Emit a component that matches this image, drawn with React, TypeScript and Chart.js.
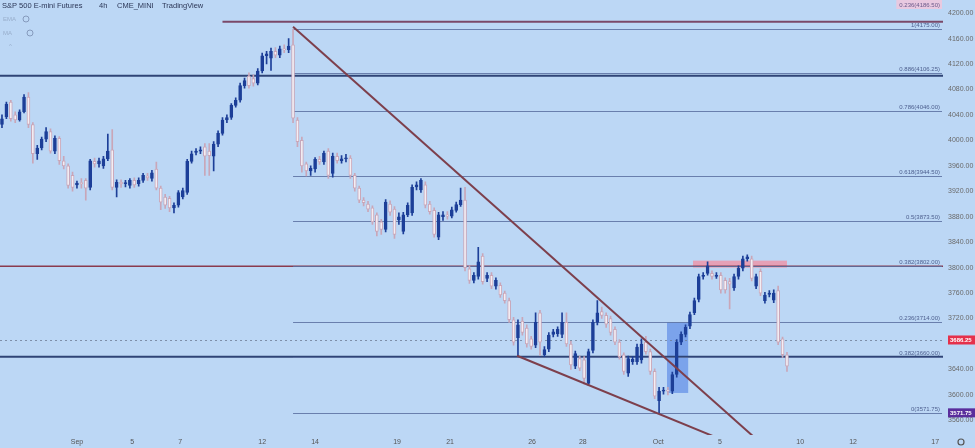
import React, { useEffect, useRef } from "react";
import { Chart, registerables } from "chart.js";

Chart.register(...registerables);

// ---- OHLC data (4h bars, S&P 500 E-mini futures) ----
const opens = [
  4025, 4037, 4060, 4040, 4032, 4045, 4068, 4025, 3979, 3988, 4002, 4014, 3983, 4003, 3968, 3960, 3945, 3930, 3933, 3937,
  3926, 3967, 3963, 3960, 3971, 3985, 3926, 3934, 3932, 3929, 3937, 3932, 3937, 3944, 3940, 3955, 3925, 3911, 3909, 3894,
  3898, 3911, 3918, 3967, 3981, 3983, 3990, 3983, 3975, 3994, 4011, 4032, 4036, 4055, 4063, 4086, 4101, 4097, 4090, 4109,
  4133, 4129, 4140, 4134, 4144, 4142, 4150, 4032, 4000, 3963, 3952, 3955, 3970, 3966, 3983, 3948, 3975, 3968, 3971, 3972,
  3945, 3925, 3906, 3900, 3894, 3883, 3872, 3860, 3900, 3892, 3875, 3857, 3883, 3886, 3927, 3922, 3930, 3900, 3890, 3848,
  3880, 3883, 3881, 3890, 3899, 3906, 3798, 3780, 3786, 3818, 3783, 3788, 3771, 3772, 3760, 3748, 3718, 3690, 3716, 3705,
  3688, 3678, 3729, 3663, 3672, 3695, 3696, 3695, 3714, 3680, 3645, 3657, 3655, 3618, 3670, 3714, 3731, 3725, 3720, 3703,
  3683, 3663, 3634, 3652, 3652, 3655, 3683, 3668, 3637, 3591, 3606, 3607, 3606, 3632, 3683, 3695, 3708, 3729, 3750, 3786,
  3791, 3791, 3786, 3788, 3780, 3778, 3768, 3786, 3799, 3814, 3814, 3771, 3794, 3748, 3758, 3749, 3764, 3688, 3663,
];
const highs = [
  4040, 4060, 4063, 4045, 4048, 4072, 4075, 4028, 3992, 4005, 4020, 4018, 4007, 4006, 3975, 3963, 3950, 3936, 3940, 3940,
  3970, 3972, 3972, 3975, 4010, 4017, 3938, 3938, 3937, 3940, 3941, 3941, 3948, 3948, 3953, 3966, 3928, 3915, 3912, 3902,
  3921, 3925, 3970, 3983, 3987, 3990, 3995, 3995, 3998, 4015, 4036, 4040, 4058, 4067, 4090, 4098, 4106, 4103, 4113, 4137,
  4140, 4145, 4146, 4148, 4150, 4160, 4175, 4036, 4005, 3966, 3960, 3973, 3975, 3983, 3987, 3980, 3980, 3976, 3978, 3976,
  3948, 3928, 3910, 3904, 3897, 3886, 3876, 3907, 3905, 3896, 3886, 3887, 3902, 3930, 3935, 3940, 3935, 3904, 3894, 3887,
  3888, 3888, 3895, 3903, 3925, 3926, 3803, 3792, 3832, 3822, 3792, 3792, 3784, 3776, 3763, 3752, 3722, 3718, 3722, 3710,
  3692, 3729, 3733, 3676, 3698, 3703, 3707, 3729, 3729, 3684, 3669, 3661, 3660, 3672, 3718, 3748, 3738, 3729, 3724, 3707,
  3687, 3666, 3661, 3660, 3680, 3688, 3692, 3672, 3641, 3612, 3612, 3612, 3636, 3687, 3699, 3710, 3730, 3752, 3790, 3792,
  3809, 3795, 3792, 3792, 3784, 3783, 3790, 3803, 3818, 3820, 3818, 3790, 3798, 3761, 3764, 3765, 3771, 3691, 3667,
];
const lows = [
  4020, 4034, 4030, 4028, 4030, 4043, 4020, 3964, 3970, 3985, 3998, 3980, 3979, 3962, 3955, 3925, 3920, 3925, 3925, 3906,
  3922, 3958, 3958, 3956, 3968, 3922, 3911, 3926, 3927, 3925, 3926, 3928, 3934, 3937, 3936, 3922, 3891, 3893, 3888, 3886,
  3895, 3908, 3915, 3964, 3977, 3979, 3945, 3945, 3952, 3990, 4008, 4028, 4033, 4052, 4060, 4082, 4082, 4085, 4087, 4106,
  4120, 4110, 4130, 4130, 4138, 4138, 4028, 3990, 3950, 3944, 3945, 3950, 3962, 3962, 3940, 3942, 3964, 3964, 3966, 3940,
  3920, 3902, 3897, 3888, 3868, 3850, 3852, 3856, 3882, 3846, 3868, 3853, 3880, 3882, 3922, 3918, 3894, 3884, 3848, 3844,
  3874, 3876, 3878, 3887, 3896, 3795, 3775, 3776, 3782, 3774, 3778, 3767, 3766, 3753, 3744, 3714, 3678, 3660, 3694, 3675,
  3672, 3674, 3662, 3660, 3668, 3691, 3692, 3690, 3676, 3640, 3641, 3638, 3617, 3615, 3666, 3710, 3720, 3706, 3694, 3679,
  3656, 3632, 3629, 3648, 3648, 3650, 3664, 3632, 3594, 3572, 3601, 3600, 3602, 3628, 3679, 3691, 3704, 3726, 3746, 3782,
  3788, 3782, 3783, 3760, 3760, 3735, 3764, 3782, 3795, 3810, 3779, 3767, 3756, 3744, 3754, 3745, 3679, 3659, 3637,
];
const closes = [
  4034, 4057, 4034, 4032, 4045, 4068, 4025, 3979, 3988, 4002, 4014, 3983, 4003, 3968, 3960, 3929, 3926, 3933, 3932, 3925,
  3968, 3963, 3968, 3971, 3983, 3926, 3934, 3932, 3933, 3937, 3930, 3937, 3945, 3941, 3949, 3925, 3903, 3898, 3894, 3898,
  3918, 3921, 3967, 3979, 3983, 3985, 3975, 3976, 3994, 4011, 4032, 4036, 4055, 4063, 4086, 4094, 4086, 4090, 4109, 4133,
  4136, 4140, 4134, 4144, 4142, 4148, 4035, 3998, 3960, 3952, 3956, 3970, 3966, 3980, 3945, 3975, 3968, 3971, 3972, 3945,
  3925, 3906, 3902, 3892, 3872, 3857, 3860, 3903, 3887, 3852, 3880, 3883, 3898, 3926, 3930, 3937, 3898, 3888, 3852, 3883,
  3883, 3881, 3891, 3899, 3906, 3800, 3780, 3788, 3809, 3778, 3788, 3771, 3780, 3757, 3748, 3718, 3683, 3710, 3698, 3680,
  3676, 3714, 3683, 3671, 3694, 3699, 3703, 3714, 3680, 3647, 3665, 3642, 3626, 3668, 3714, 3729, 3725, 3711, 3698, 3683,
  3660, 3637, 3657, 3656, 3675, 3680, 3668, 3637, 3598, 3606, 3607, 3606, 3632, 3683, 3695, 3706, 3726, 3748, 3786, 3788,
  3803, 3786, 3788, 3765, 3765, 3774, 3786, 3799, 3814, 3817, 3783, 3786, 3760, 3757, 3760, 3760, 3683, 3663, 3645,
];

// ---- Axis ticks ----
const xTickBars = [17, 29.5, 40.4, 59, 71, 89.6, 101.6, 120.2, 131.7, 148.8, 162.8, 181, 193, 211.6];
const xTickLabels = ["Sep", "5", "7", "12", "14", "19", "21", "26", "28", "Oct", "5", "10", "12", "17"];
const yTickValues = [3560, 3600, 3640, 3720, 3760, 3800, 3840, 3880, 3920, 3960, 4000, 4040, 4080, 4120, 4160, 4200];

// ---- Drawn studies (values in bar index / price) ----
const fibLevels = [4186.5, 4175, 4106.25, 4046, 3944.5, 3873.5, 3802, 3714, 3660, 3571.75];
const fibLabels = [
  "0.236(4186.50)", "1(4175.00)", "0.886(4106.25)", "0.786(4046.00)", "0.618(3944.50)",
  "0.5(3873.50)", "0.382(3802.00)", "0.236(3714.00)", "0.382(3660.00)", "0(3571.75)",
];
const fibStartBar = 66;
const hLineValues = [4186.5, 4101.5, 3802, 3660];
const hLineStartBars = [50, -1, -1, -1];
const upperTrendBars = [66, 172];
const upperTrendPrices = [4178.5, 3524.6];
const lowerTrendBars = [116.8, 162];
const lowerTrendPrices = [3661.5, 3533];
const blueBoxBars = [150.8, 155.6];
const blueBoxPrices = [3603, 3714];
const pinkBoxBars = [156.7, 178];
const pinkBoxPrices = [3800, 3811];
const lastPrice = 3686.25;
const lowPrice = 3571.75;

// ---- Styles ----
const BG = "rgb(188,215,245)";
const UP = "#1d3f98";
const DOWN_FILL = "#f3eef4";
const DOWN_BORDER = "#c9a6b8";
const X_MIN = -0.45;
const X_MAX = 213.38;
const Y_MIN = 3536.92;
const Y_MAX = 4206.15;
const FONT = "'Liberation Sans', Arial, sans-serif";
const hLineColors = ["#7a4868", "#2f4476", "#8a3a4e", "#2f4476"];
const hLineWidths = [2, 2, 1.5, 2];

const overlayPlugin = {
  id: "overlay",
  beforeDraw(chart: any) {
    const ctx = chart.ctx;
    ctx.save();
    ctx.fillStyle = BG;
    ctx.fillRect(0, 0, chart.width, chart.height);
    ctx.restore();
  },
  beforeDatasetsDraw(chart: any) {
    const { ctx, chartArea: a, scales } = chart;
    const x = scales.x;
    const y = scales.y;
    ctx.save();
    ctx.beginPath();
    ctx.rect(a.left, a.top, a.right - a.left, a.bottom - a.top);
    ctx.clip();

    const rect = (bars: number[], prices: number[], color: string) => {
      const x0 = x.getPixelForValue(bars[0]);
      const x1 = x.getPixelForValue(bars[1]);
      const y0 = y.getPixelForValue(prices[1]);
      const y1 = y.getPixelForValue(prices[0]);
      ctx.fillStyle = color;
      ctx.fillRect(x0, y0, x1 - x0, y1 - y0);
    };
    rect(blueBoxBars, blueBoxPrices, "rgba(70,120,225,0.55)");
    rect(pinkBoxBars, pinkBoxPrices, "rgba(236,150,170,0.85)");

    ctx.strokeStyle = "rgba(110,125,150,0.8)";
    ctx.lineWidth = 1;
    ctx.setLineDash([2, 3]);
    const ly = Math.round(y.getPixelForValue(lastPrice)) + 0.5;
    ctx.beginPath();
    ctx.moveTo(a.left, ly);
    ctx.lineTo(a.right, ly);
    ctx.stroke();
    ctx.setLineDash([]);

    hLineValues.forEach((v, i) => {
      const py = y.getPixelForValue(v);
      const sx = hLineStartBars[i] < 0 ? a.left : x.getPixelForValue(hLineStartBars[i]);
      ctx.strokeStyle = hLineColors[i];
      ctx.lineWidth = hLineWidths[i];
      ctx.beginPath();
      ctx.moveTo(sx, py);
      ctx.lineTo(a.right, py);
      ctx.stroke();
    });

    const fx = x.getPixelForValue(fibStartBar);
    fibLevels.forEach((v, i) => {
      if (i === 0) return;
      const py = Math.round(y.getPixelForValue(v)) + 0.5;
      ctx.strokeStyle = "rgba(90,112,160,0.85)";
      ctx.lineWidth = 1.2;
      ctx.beginPath();
      ctx.moveTo(fx, py);
      ctx.lineTo(a.right - 1, py);
      ctx.stroke();
    });
    ctx.restore();

    ctx.save();
    ctx.font = `6px ${FONT}`;
    ctx.textAlign = "right";
    ctx.textBaseline = "alphabetic";
    fibLevels.forEach((v, i) => {
      const py = y.getPixelForValue(v);
      const tx = a.right - 3;
      if (i === 0) {
        const w = ctx.measureText(fibLabels[i]).width;
        ctx.fillStyle = "rgba(236,200,222,0.9)";
        ctx.fillRect(tx - w - 3, 0, w + 5, 9);
        ctx.fillStyle = "#6a5a8a";
        ctx.fillText(fibLabels[i], tx, 7);
        return;
      }
      ctx.fillStyle = "#4d5f8e";
      ctx.fillText(fibLabels[i], tx, py - 2);
    });
    ctx.restore();
  },
  afterDraw(chart: any) {
    const { ctx, chartArea: a, scales } = chart;
    const y = scales.y;
    ctx.save();
    const tag = (v: number, color: string) => {
      const py = y.getPixelForValue(v);
      ctx.fillStyle = color;
      ctx.fillRect(a.right + 5, py - 4.5, chart.width - a.right - 5, 9);
      ctx.fillStyle = "#ffffff";
      ctx.font = `bold 6px ${FONT}`;
      ctx.textAlign = "left";
      ctx.textBaseline = "middle";
      ctx.fillText(v.toFixed(2), a.right + 7, py + 0.5);
    };
    tag(lastPrice, "#e5304a");
    tag(lowPrice, "#5a2d9c");

    ctx.font = `7.5px ${FONT}`;
    ctx.textAlign = "left";
    ctx.textBaseline = "middle";
    ctx.fillStyle = "#2b3656";
    ctx.fillText("S&P 500 E-mini Futures", 2, 6);
    ctx.fillText("4h", 99, 6);
    ctx.fillText("CME_MINI", 117, 6);
    ctx.fillText("TradingView", 162, 6);
    ctx.fillStyle = "rgba(140,160,190,0.75)";
    ctx.font = `6px ${FONT}`;
    ctx.fillText("EMA", 3, 19);
    ctx.fillText("MA", 3, 33);
    ctx.strokeStyle = "rgba(120,140,175,0.8)";
    ctx.lineWidth = 1;
    ctx.beginPath();
    ctx.arc(26, 19, 3, 0, Math.PI * 2);
    ctx.stroke();
    ctx.beginPath();
    ctx.arc(30, 33, 3, 0, Math.PI * 2);
    ctx.stroke();
    ctx.fillText("^", 9, 46);

    ctx.strokeStyle = "#555";
    ctx.lineWidth = 1.2;
    ctx.beginPath();
    ctx.arc(961, 442, 3, 0, Math.PI * 2);
    ctx.stroke();
    ctx.restore();
  },
};

export default function App() {
  const canvasRef = useRef<HTMLCanvasElement | null>(null);

  useEffect(() => {
    const canvas = canvasRef.current;
    if (!canvas) return;
    const idx = opens.map((_, i) => i);
    const isUp = idx.map((i) => closes[i] >= opens[i]);

    const chart = new Chart(canvas, {
      type: "bar",
      data: {
        datasets: [
          {
            type: "line",
            label: "upper trend",
            data: upperTrendBars.map((b, i) => ({ x: b, y: upperTrendPrices[i] })),
            borderColor: "#7d3f4c",
            borderWidth: 2,
            pointRadius: 0,
            order: 0,
          } as any,
          {
            type: "line",
            label: "lower trend",
            data: lowerTrendBars.map((b, i) => ({ x: b, y: lowerTrendPrices[i] })),
            borderColor: "#7d3f4c",
            borderWidth: 2,
            pointRadius: 0,
            order: 0,
          } as any,
          {
            type: "bar",
            label: "bodies",
            data: idx.map((i) => ({ x: i, y: [opens[i], closes[i]] })),
            backgroundColor: idx.map((i) => (isUp[i] ? UP : DOWN_FILL)),
            borderColor: idx.map((i) => (isUp[i] ? UP : DOWN_BORDER)),
            borderWidth: 1,
            borderSkipped: false,
            barThickness: 3,
            minBarLength: 1,
            grouped: false,
            order: 1,
          } as any,
          {
            type: "bar",
            label: "wicks",
            data: idx.map((i) => ({ x: i, y: [lows[i], highs[i]] })),
            backgroundColor: idx.map((i) => (isUp[i] ? UP : DOWN_BORDER)),
            borderWidth: 0,
            barThickness: 1,
            grouped: false,
            order: 2,
          } as any,
        ],
      },
      options: {
        animation: false,
        responsive: false,
        devicePixelRatio: 1,
        layout: { padding: 0 },
        plugins: { legend: { display: false }, tooltip: { enabled: false } },
        scales: {
          x: {
            type: "linear",
            min: X_MIN,
            max: X_MAX,
            offset: false,
            grid: { display: false, drawTicks: false },
            border: { display: false },
            afterBuildTicks: (s: any) => {
              s.ticks = xTickBars.map((v) => ({ value: v }));
            },
            afterFit: (s: any) => {
              s.height = 13;
            },
            ticks: {
              autoSkip: false,
              maxRotation: 0,
              padding: 3,
              color: "#555",
              font: { size: 7, family: FONT },
              callback: (_v: any, i: number) => xTickLabels[i],
            },
          },
          y: {
            type: "linear",
            position: "right",
            min: Y_MIN,
            max: Y_MAX,
            grid: { display: false, drawTicks: false },
            border: { display: false },
            afterBuildTicks: (s: any) => {
              s.ticks = yTickValues.map((v) => ({ value: v }));
            },
            afterFit: (s: any) => {
              s.width = 32;
            },
            ticks: {
              padding: 5,
              color: "#6a6a6a",
              font: { size: 7, family: FONT },
              callback: (v: any) => Number(v).toFixed(2),
            },
          },
        },
      } as any,
      plugins: [overlayPlugin],
    });
    return () => chart.destroy();
  }, []);

  return (
    <div style={{ position: "absolute", left: 0, top: 0, width: 975, height: 448 }}>
      <canvas ref={canvasRef} width={975} height={448} style={{ display: "block" }} />
    </div>
  );
}
